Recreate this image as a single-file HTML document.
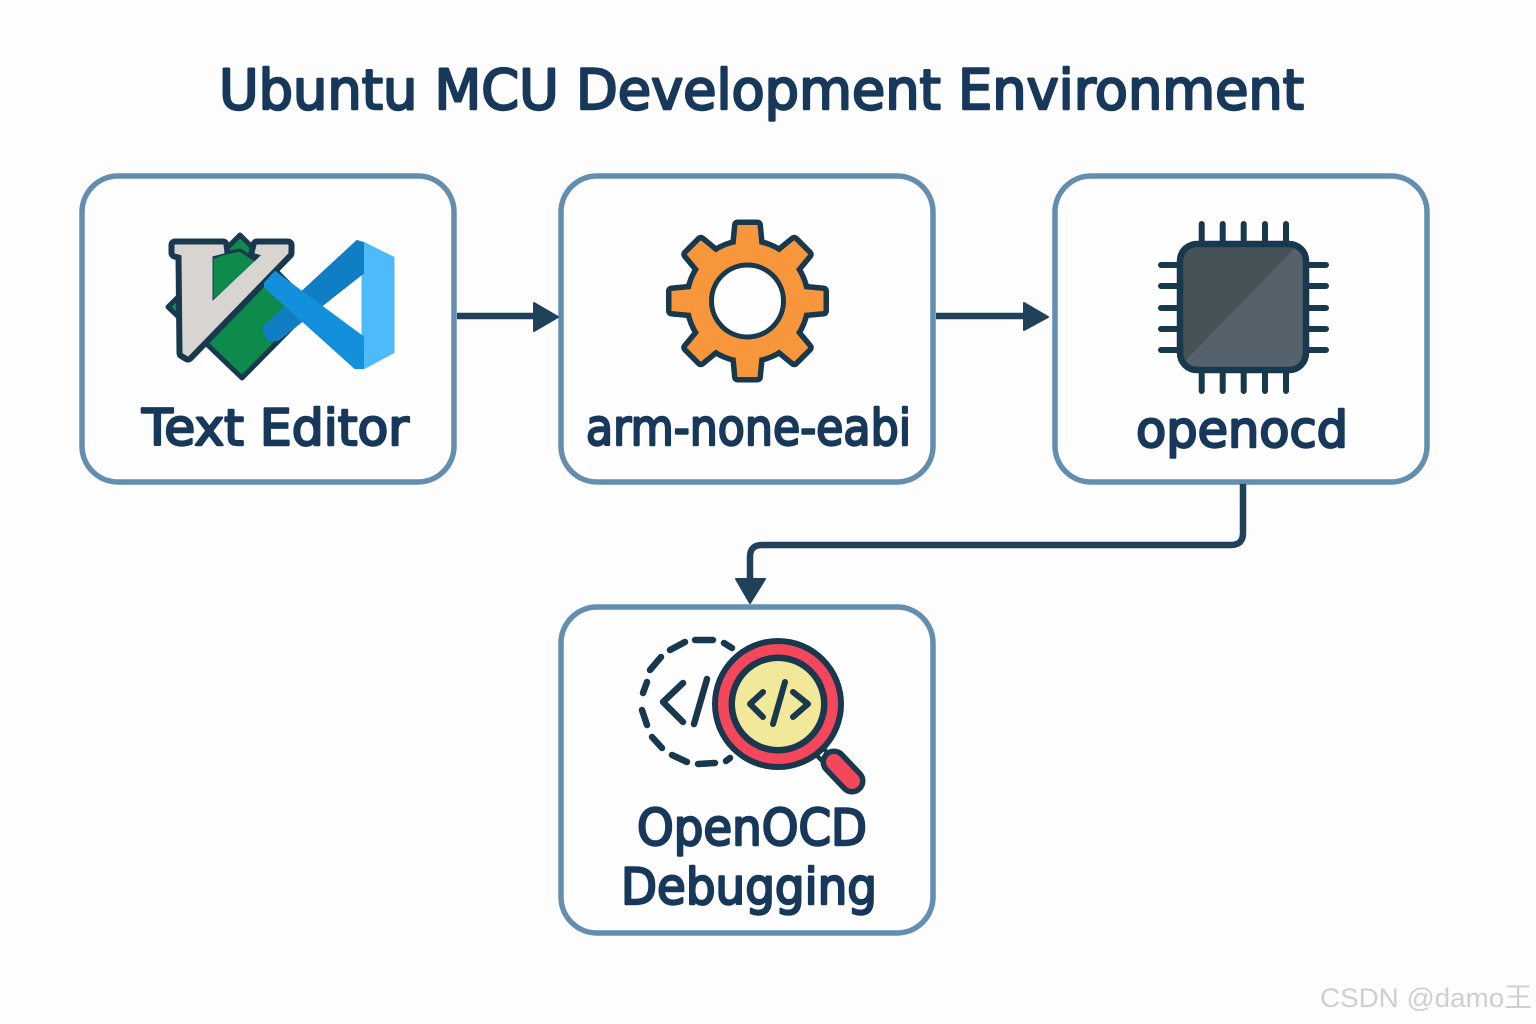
<!DOCTYPE html>
<html><head><meta charset="utf-8"><style>
html,body{margin:0;padding:0;background:#fdfdfd;width:1536px;height:1024px;overflow:hidden}
svg{display:block}
.t{font-family:"DejaVu Sans","Liberation Sans",sans-serif;fill:#17385a;stroke:#17385a;stroke-width:2.4;stroke-linejoin:round}
</style></head><body>
<svg width="1536" height="1024" viewBox="0 0 1536 1024" xmlns="http://www.w3.org/2000/svg">
<rect width="1536" height="1024" fill="#fdfdfd"/>
<text class="t" x="219" y="109" font-size="55" textLength="1085" lengthAdjust="spacingAndGlyphs">Ubuntu MCU Development Environment</text>

<g fill="#fefefe" stroke="#648eb0" stroke-width="5.5">
<rect x="82" y="176" width="372" height="306" rx="36"/>
<rect x="561" y="176" width="372" height="306" rx="36"/>
<rect x="1055" y="176" width="372" height="306" rx="36"/>
<rect x="561" y="607" width="372" height="326" rx="36"/>
</g>

<!-- connectors -->
<g fill="none" stroke="#1f4159" stroke-width="6.5">
<path d="M457 316H536"/>
<path d="M936 316H1026"/>
<path d="M1243 484V533Q1243 545 1231 545H762Q750 545 750 557V582"/>
</g>
<g fill="#1f4159" stroke="#1f4159" stroke-width="2" stroke-linejoin="round">
<path d="M534 303L558 317L534 331Z"/>
<path d="M1024 303L1048 317L1024 330Z"/>
<path d="M736 579H765L750 603Z"/>
</g>

<!-- Vim + VS Code icon -->
<path d="M240 235L312 307L242 378L168 307Z" fill="#0e8a4c" stroke="#17384d" stroke-width="5" stroke-linejoin="round"/>
<path d="M175 245H223L224 253L212 256V302L262 255L255 253L257 245H288V253L188 356L183 353L182 255L175 253Z" fill="#17384d" stroke="#17384d" stroke-width="13" stroke-linejoin="round"/>
<path d="M240 250L258 262L212 302V258L222 254Z" fill="#0e8a4c" stroke="#17384d" stroke-width="3" stroke-linejoin="round"/>
<path d="M175 245H223L224 253L212 256V302L262 255L255 253L257 245H288V253L188 356L183 353L182 255L175 253Z" fill="#d8d5d0" stroke="#d8d5d0" stroke-width="1" stroke-linejoin="round"/>
<path d="M363 243L393 258V352L363 368Z" fill="#4dbbfa" stroke="#4dbbfa" stroke-width="3" stroke-linejoin="round"/>
<path d="M357 241L363 243V273L278 340L268 340L263 328Z" fill="#0f7ec2" stroke="#0f7ec2" stroke-width="2" stroke-linejoin="round"/>
<path d="M265 283L275 272L363 337V368L355 368L265 287Z" fill="#1290db" stroke="#1290db" stroke-width="2" stroke-linejoin="round"/>
<text class="t" x="142" y="445" font-size="50" textLength="267" lengthAdjust="spacingAndGlyphs">Text Editor</text>

<!-- Gear -->
<g transform="translate(747.5 301)">
<g fill="#17384d" stroke="#17384d" stroke-width="11" stroke-linejoin="round">
<circle r="58"/>
<path d="M-12 -55L-10 -76H10L12 -55Z"/>
<path d="M-12 -55L-10 -76H10L12 -55Z" transform="rotate(45)"/>
<path d="M-12 -55L-10 -76H10L12 -55Z" transform="rotate(90)"/>
<path d="M-12 -55L-10 -76H10L12 -55Z" transform="rotate(135)"/>
<path d="M-12 -55L-10 -76H10L12 -55Z" transform="rotate(180)"/>
<path d="M-12 -55L-10 -76H10L12 -55Z" transform="rotate(225)"/>
<path d="M-12 -55L-10 -76H10L12 -55Z" transform="rotate(270)"/>
<path d="M-12 -55L-10 -76H10L12 -55Z" transform="rotate(315)"/>
</g>
<g fill="#f7963b">
<circle r="58"/>
<path d="M-12 -55L-10 -76H10L12 -55Z"/>
<path d="M-12 -55L-10 -76H10L12 -55Z" transform="rotate(45)"/>
<path d="M-12 -55L-10 -76H10L12 -55Z" transform="rotate(90)"/>
<path d="M-12 -55L-10 -76H10L12 -55Z" transform="rotate(135)"/>
<path d="M-12 -55L-10 -76H10L12 -55Z" transform="rotate(180)"/>
<path d="M-12 -55L-10 -76H10L12 -55Z" transform="rotate(225)"/>
<path d="M-12 -55L-10 -76H10L12 -55Z" transform="rotate(270)"/>
<path d="M-12 -55L-10 -76H10L12 -55Z" transform="rotate(315)"/>
</g>
<circle r="36" fill="#fefefe" stroke="#17384d" stroke-width="5"/>
</g>
<text class="t" x="586" y="445" font-size="50" textLength="325" lengthAdjust="spacingAndGlyphs">arm-none-eabi</text>

<!-- Chip -->
<g stroke="#17384d" stroke-width="6" stroke-linecap="round" fill="none">
<path d="M1201.7 224V242M1222.7 224V242M1243.7 224V242M1265 224V242M1286 224V242"/>
<path d="M1201.7 372V391M1222.7 372V391M1243.7 372V391M1265 372V391M1286 372V391"/>
<path d="M1161 265H1178M1161 286H1178M1161 308H1178M1161 329H1178M1161 350H1178"/>
<path d="M1308 265H1326M1308 286H1326M1308 308H1326M1308 329H1326M1308 350H1326"/>
</g>
<rect x="1180" y="244" width="126" height="126" rx="17" fill="#465258"/>
<path d="M1297 246Q1305 250 1304 262V352Q1304 368 1288 368H1190Q1186 368 1184 362Z" fill="#55626c"/>
<rect x="1180" y="244" width="126" height="126" rx="17" fill="none" stroke="#17384d" stroke-width="6.5"/>
<text class="t" x="1136" y="447" font-size="50" textLength="212" lengthAdjust="spacingAndGlyphs">openocd</text>

<!-- Debug icon -->
<g stroke="#17384d" stroke-width="6.5" stroke-linecap="round" stroke-linejoin="round" fill="none">
<path d="M724 643L732 648M695 640H713M670 650L685 642M650 670L661 657M643 693L647 682M642 710L647 725M652 737L662 748M672 755L687 762M698 764L715 763M726 761L730 758"/>
<path d="M683 683L663 702L683 722M707 679L694 724"/>
</g>
<path d="M815 747L826 758" stroke="#17384d" stroke-width="14"/>
<path d="M817 749L826 758" stroke="#fefefe" stroke-width="5"/>
<path d="M834 762L852 781" stroke="#17384d" stroke-width="27" stroke-linecap="round"/>
<path d="M834 762L852 781" stroke="#f5475b" stroke-width="16" stroke-linecap="round"/>
<circle cx="778" cy="704" r="66" fill="#17384d"/>
<circle cx="778" cy="704" r="60" fill="#f5475b"/>
<circle cx="778" cy="704" r="49.5" fill="#17384d"/>
<circle cx="778" cy="704" r="43" fill="#f2e899"/>
<g stroke="#17384d" stroke-width="6" stroke-linecap="round" stroke-linejoin="round" fill="none">
<path d="M763 692L750 704L763 717M793 692L808 704L793 717M785 682L773 724"/>
</g>
<text class="t" x="637" y="845" font-size="50" textLength="230" lengthAdjust="spacingAndGlyphs">OpenOCD</text>
<text class="t" x="621" y="904" font-size="50" textLength="256" lengthAdjust="spacingAndGlyphs">Debugging</text>

<text x="1320" y="1007" font-size="27" fill="#cfcfcf" font-family="'Liberation Sans','Noto Sans CJK SC',sans-serif" textLength="212" lengthAdjust="spacingAndGlyphs">CSDN @damo王</text>
</svg>
</body></html>
